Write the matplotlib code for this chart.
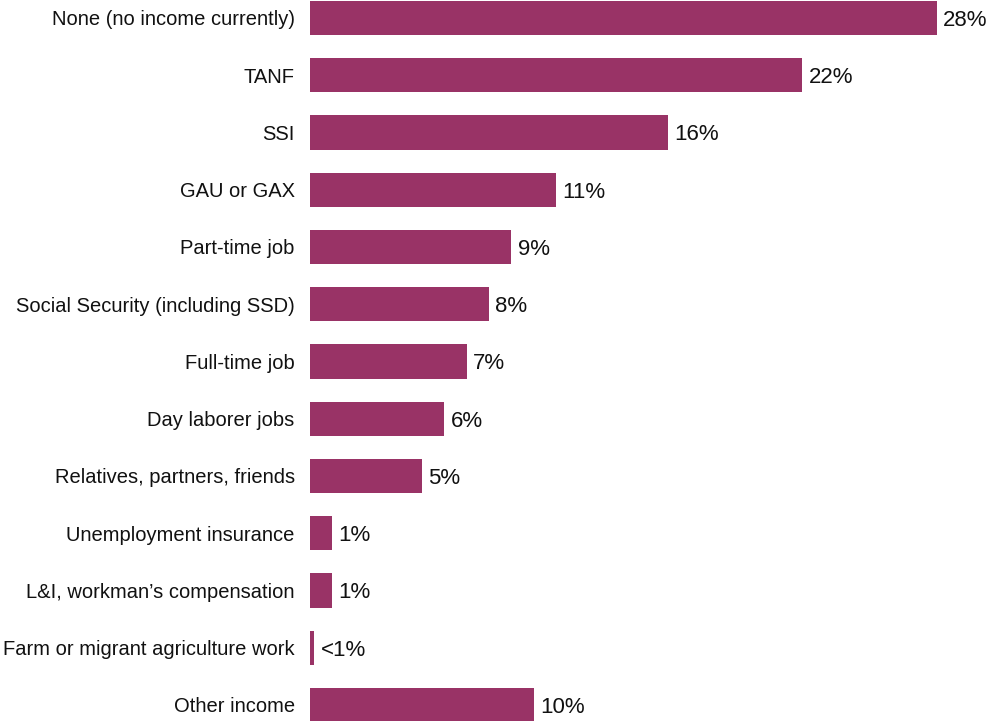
import matplotlib.pyplot as plt

categories = [
    "None (no income currently)",
    "TANF",
    "SSI",
    "GAU or GAX",
    "Part-time job",
    "Social Security (including SSD)",
    "Full-time job",
    "Day laborer jobs",
    "Relatives, partners, friends",
    "Unemployment insurance",
    "L&I, workman\u2019s compensation",
    "Farm or migrant agriculture work",
    "Other income",
]
values = [28, 22, 16, 11, 9, 8, 7, 6, 5, 1, 1, 0.2, 10]
value_labels = ["28%", "22%", "16%", "11%", "9%", "8%", "7%", "6%", "5%",
                "1%", "1%", "<1%", "10%"]

plt.rcParams['font.family'] = ['Liberation Sans', 'DejaVu Sans']

fig = plt.figure(figsize=(9.9, 7.21), dpi=100)
ax = fig.add_axes([310 / 990, 0, 680 / 990, 1])

ypos = list(range(len(categories)))
ax.barh(ypos, values, height=0.6, color='#993366')

for y, v, lab in zip(ypos, values, value_labels):
    ax.annotate(lab, (v, y), xytext=(4.5, 0), textcoords='offset points',
                va='center_baseline', ha='left', fontsize=16, color='#111111')

ax.set_yticks(ypos)
ax.set_yticklabels(categories, fontsize=14.5, color='#111111')
ax.tick_params(axis='y', length=0, pad=11)
ax.set_xticks([])
ax.set_xlim(0, 680 / 22.38)
ax.set_ylim(len(categories) - 1 + 0.28, -0.314)
for s in ax.spines.values():
    s.set_visible(False)

fig.savefig('out.png', dpi=100)
